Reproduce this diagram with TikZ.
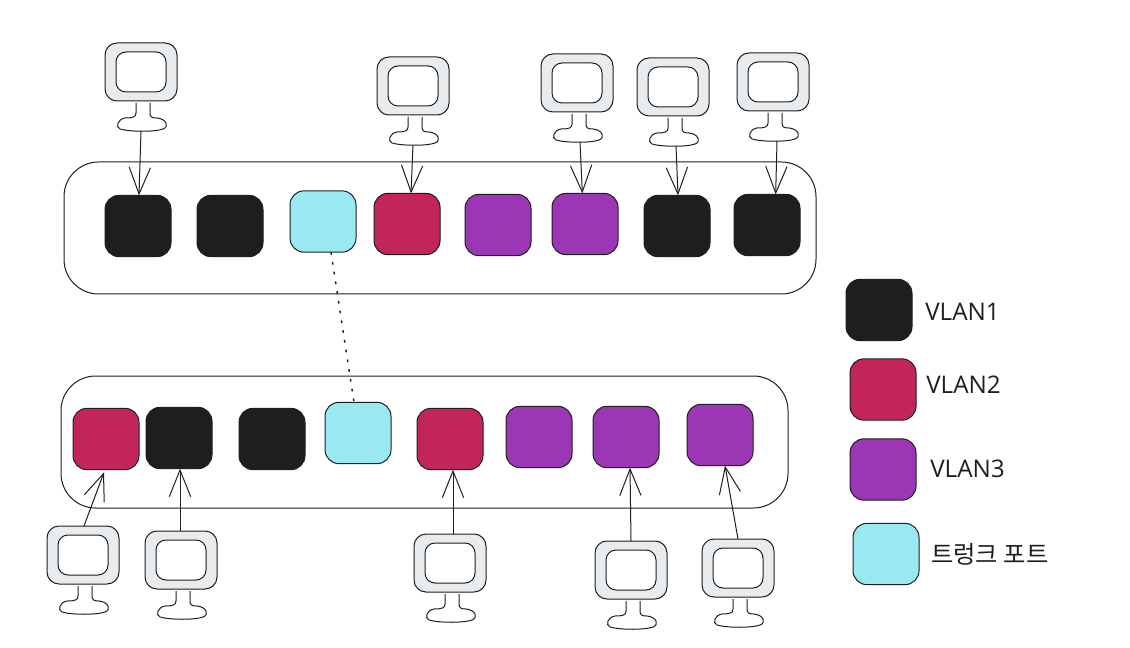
\documentclass[tikz,border=0pt]{standalone}
\usepackage{fontspec}
\setmainfont{Open Sans}
\newfontfamily\cjk{Noto Sans CJK KR}
\usetikzlibrary{arrows.meta}
\definecolor{vblack}{HTML}{1E1E1E}
\definecolor{vred}{HTML}{C2255C}
\definecolor{vpurple}{HTML}{9C36B5}
\definecolor{vcyan}{HTML}{99E9F2}
\definecolor{vgray}{HTML}{E9ECEF}
\tikzset{
  line/.style={draw=vblack,line width=.75pt},
  portbox/.style={line,rounded corners=10.5pt,minimum width=49.5pt,minimum height=46pt,inner sep=0pt,outer sep=0pt},
  switchbox/.style={line,rounded corners=26pt,inner sep=0pt,outer sep=0pt,fill=white},
  case/.style={line,fill=vgray,rounded corners=9pt,minimum width=54pt,minimum height=43.5pt,inner sep=0pt,outer sep=0pt},
  glass/.style={line,fill=white,rounded corners=7.5pt,minimum width=37.5pt,minimum height=30pt,inner sep=0pt,outer sep=0pt},
  link/.style={line,-{Straight Barb[length=20pt,width=16pt,line width=.75pt]}},
  trunk/.style={line,line width=1.1pt,dash pattern=on 2pt off 5.4pt},
  legend/.style={font=\fontsize{18.2}{22}\selectfont,text=vblack,inner sep=0pt,anchor=west}
}
\newcommand{\monitor}[3]{%
  \begin{scope}[shift={(#2,#3)}]
    \node[case] (#1) at (36,29) {};
    \node[glass] (#1g) at (36,29) {};
    \draw[line] (31,60) -- (31,70) .. controls (31,74) and (28,75) .. (20,75)
      .. controls (13,76) and (10,84) .. (15,86) .. controls (25,89) and (50,89) .. (58,86)
      .. controls (64,84) and (62,76) .. (52,75) .. controls (47,75) and (45,74) .. (45,70) -- (45,60);
    \coordinate (#1b) at (36,88);
  \end{scope}}
\begin{document}
\begin{tikzpicture}[x=.75pt,y=-.75pt]
\useasboundingbox (0,0) rectangle (1130,648);
\node[switchbox,minimum width=564pt,minimum height=99pt] (swA) at (440,228) {};
\node[switchbox,minimum width=545.25pt,minimum height=99pt] (swB) at (424.5,442) {};

\node[portbox,fill=vblack] (a1) at (138,226) {};
\node[portbox,fill=vblack] (a2) at (230,226) {};
\node[portbox,fill=vcyan] (a3) at (323,221.5) {};
\node[portbox,fill=vred] (a4) at (407,224) {};
\node[portbox,fill=vpurple] (a5) at (498,225) {};
\node[portbox,fill=vpurple] (a6) at (585,224) {};
\node[portbox,fill=vblack] (a7) at (677,226) {};
\node[portbox,fill=vblack] (a8) at (767,225) {};

\node[portbox,fill=vred] (b1) at (106,439) {};
\node[portbox,fill=vblack] (b2) at (179,438) {};
\node[portbox,fill=vblack] (b3) at (272,439) {};
\node[portbox,fill=vcyan] (b4) at (358,433) {};
\node[portbox,fill=vred] (b5) at (450,439) {};
\node[portbox,fill=vpurple] (b6) at (539,437) {};
\node[portbox,fill=vpurple] (b7) at (626,437) {};
\node[portbox,fill=vpurple] (b8) at (720,435) {};

\node[portbox,fill=vblack] (k1) at (879,310) {};
\node[portbox,fill=vred] (k2) at (883,389.5) {};
\node[portbox,fill=vpurple] (k3) at (883,469.5) {};
\node[portbox,fill=vcyan] (k4) at (886,554) {};
\node[legend] (t1) at (925,312) {VLAN1};
\node[legend] (t2) at (926,385) {VLAN2};
\node[legend] (t3) at (930,469) {VLAN3};
\node[legend] (t4) at (931,554) {\cjk 트렁크 포트};

\monitor{ma}{105}{43}
\monitor{mb}{377}{57}
\monitor{mc}{541}{54}
\monitor{md}{637}{58}
\monitor{me}{737}{53}
\monitor{mf}{47}{526}
\monitor{mg}{145}{531}
\monitor{mh}{414}{534}
\monitor{mi}{595}{541}
\monitor{mj}{702}{539}

\draw[link] (mab) -- ([xshift=.75pt]a1.north);
\draw[link] (mbb) -- ([xshift=3pt]a4.north);
\draw[link] ([xshift=2.25pt]mcb) -- ([xshift=-2pt]a6.north);
\draw[link] ([xshift=2.25pt]mdb) -- ([xshift=.75pt]a7.north);
\draw[link] ([xshift=3pt]meb) -- ([xshift=6.5pt]a8.north);
\draw[link] ([xshift=.75pt]mf.north) -- ([xshift=-1.5pt,yshift=-2pt]b1.south);
\draw[link] ([xshift=-.75pt]mg.north) -- ([xshift=.75pt]b2.south);
\draw[link] ([xshift=2.25pt]mh.north) -- ([xshift=2.25pt]b5.south);
\draw[link] (mi.north) -- ([xshift=3pt]b7.south);
\draw[link] (mj.north) -- ([xshift=3.75pt]b8.south);
\draw[trunk] ([xshift=6pt]a3.south) -- ([xshift=-3pt]b4.north);
\end{tikzpicture}
\end{document}
